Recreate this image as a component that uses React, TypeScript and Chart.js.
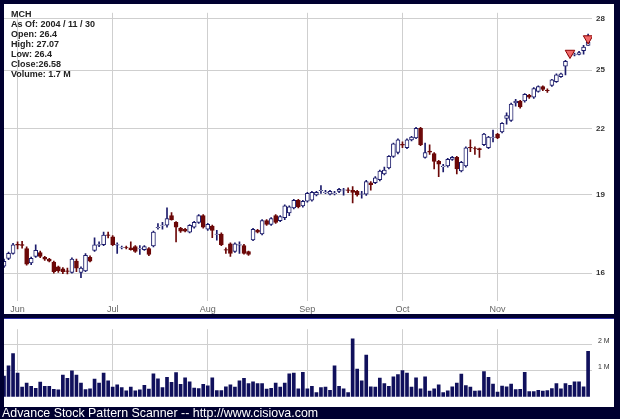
import React, { useEffect, useRef } from 'react';
import { Chart, registerables } from 'chart.js';
Chart.register(...registerables);

const FONT = '"Liberation Sans", Arial, sans-serif';

const dates = [
  '5/26','5/27','5/28',
  '6/1','6/2','6/3','6/4','6/7','6/8','6/9','6/10','6/14','6/15','6/16','6/17','6/18','6/21','6/22','6/23','6/24','6/25','6/28','6/29','6/30',
  '7/1','7/2','7/6','7/7','7/8','7/9','7/12','7/13','7/14','7/15','7/16','7/19','7/20','7/21','7/22','7/23','7/26','7/27','7/28','7/29','7/30',
  '8/2','8/3','8/4','8/5','8/6','8/9','8/10','8/11','8/12','8/13','8/16','8/17','8/18','8/19','8/20','8/23','8/24','8/25','8/26','8/27','8/30','8/31',
  '9/1','9/2','9/3','9/7','9/8','9/9','9/10','9/13','9/14','9/15','9/16','9/17','9/20','9/21','9/22','9/23','9/24','9/27','9/28','9/29','9/30',
  '10/1','10/4','10/5','10/6','10/7','10/8','10/11','10/12','10/13','10/14','10/15','10/18','10/19','10/20','10/21','10/22','10/25','10/26','10/27','10/28','10/29',
  '11/1','11/2','11/3','11/4','11/5','11/8','11/9','11/10','11/11','11/12','11/15','11/16','11/17','11/18','11/19','11/22','11/23','11/24','11/26','11/29','11/30',
];

const opens = [
  16.25,16.53,16.71,17.05,17.04,16.89,16.36,16.60,16.74,16.57,
  16.50,16.39,16.22,16.15,16.08,16.03,16.43,16.03,16.08,16.57,
  16.82,17.02,17.03,17.41,17.33,17.02,16.92,16.93,16.92,16.96,
  16.88,16.85,16.89,16.99,17.68,17.77,17.78,18.16,17.89,17.66,
  17.62,17.51,17.70,17.89,18.16,17.62,17.74,17.42,17.44,16.85,
  17.07,16.78,17.02,17.00,16.78,17.21,17.58,17.44,17.96,17.81,
  18.16,17.96,18.08,18.27,18.47,18.78,18.55,18.74,18.78,19.00,
  19.18,19.10,19.03,19.06,19.15,19.20,19.22,19.20,19.15,19.03,
  19.03,19.52,19.52,19.65,19.90,20.16,20.68,20.86,21.24,21.08,
  21.45,21.54,22.00,20.64,20.92,20.81,20.46,20.22,20.25,20.55,
  20.64,20.03,20.25,21.10,21.04,21.04,21.22,21.08,21.56,21.72,
  21.82,22.48,22.38,23.26,23.36,23.36,23.65,23.56,23.86,24.12,
  23.92,24.17,24.37,24.64,25.22,25.81,25.85,25.88,26.10,26.40,
];
const highs = [
  16.50,16.76,17.08,17.14,17.16,16.95,16.58,17.03,16.80,16.60,
  16.53,16.43,16.25,16.20,16.18,16.55,16.50,16.22,16.70,16.62,
  17.29,17.14,17.51,17.51,17.38,17.10,16.98,16.98,17.14,17.00,
  17.00,17.00,16.93,17.55,17.84,17.89,18.47,18.28,17.92,17.70,
  17.66,17.80,17.93,18.20,18.20,17.85,17.78,17.58,17.48,16.92,
  17.10,17.10,17.14,17.05,16.80,17.66,17.62,18.00,18.00,18.08,
  18.20,18.16,18.59,18.55,18.82,18.82,18.78,19.11,19.15,19.15,
  19.40,19.20,19.20,19.15,19.28,19.28,19.30,19.35,19.20,19.15,
  19.62,19.57,19.78,20.07,20.20,20.72,21.30,21.50,21.35,21.50,
  21.62,22.05,22.05,21.30,21.22,20.86,20.50,20.33,20.60,20.68,
  20.68,20.46,21.12,21.45,21.12,21.06,21.76,21.62,21.91,21.76,
  22.28,22.76,23.25,23.45,23.40,23.75,23.70,24.06,24.16,24.16,
  24.00,24.50,24.80,24.84,25.55,26.00,25.95,26.05,26.40,27.07,
];
const lows = [
  16.20,16.48,16.68,16.88,16.90,16.28,16.30,16.56,16.55,16.45,
  16.40,16.00,16.03,15.98,15.97,16.00,16.05,15.84,16.05,16.40,
  16.78,16.96,17.00,17.29,17.00,16.71,16.88,16.88,16.83,16.75,
  16.67,16.82,16.63,16.95,17.62,17.62,17.70,17.98,17.14,17.50,
  17.52,17.48,17.66,17.85,17.66,17.58,17.30,17.20,17.00,16.71,
  16.60,16.75,16.71,16.68,16.64,17.18,17.48,17.40,17.77,17.77,
  17.85,17.92,18.00,18.16,18.43,18.47,18.50,18.70,18.74,18.96,
  19.07,19.05,19.00,19.00,19.10,18.99,19.10,18.67,18.95,18.87,
  18.98,19.20,19.48,19.60,19.86,20.12,20.64,20.80,21.08,21.04,
  21.40,21.50,21.18,20.60,20.77,20.12,19.78,19.99,20.20,20.50,
  19.90,19.99,20.20,20.90,20.77,20.64,21.18,21.04,21.35,21.50,
  21.78,22.20,22.33,23.10,23.00,23.30,23.50,23.50,23.82,23.90,
  23.80,24.12,24.33,24.60,24.74,25.75,25.80,25.85,25.90,26.40,
];
const closes = [
  16.42,16.71,17.03,17.02,17.01,16.32,16.53,16.82,16.60,16.50,
  16.43,16.05,16.08,16.05,16.06,16.50,16.18,16.18,16.64,16.43,
  17.03,17.04,17.40,17.38,17.03,17.04,16.93,16.92,16.85,16.78,
  16.89,16.96,16.67,17.51,17.70,17.78,18.04,18.00,17.70,17.55,
  17.55,17.77,17.89,18.16,17.70,17.81,17.58,17.44,17.03,16.83,
  16.71,17.07,17.04,16.71,16.67,17.62,17.51,17.96,17.81,18.04,
  17.89,18.12,18.55,18.51,18.78,18.51,18.74,19.07,19.11,19.11,
  19.20,19.12,19.15,19.08,19.24,19.22,19.19,19.11,19.00,19.05,
  19.57,19.44,19.73,20.03,20.07,20.68,21.26,21.45,21.20,21.45,
  21.58,22.00,21.22,20.86,20.88,20.46,20.33,20.25,20.55,20.64,
  20.12,20.42,21.08,21.07,21.02,20.99,21.72,21.58,21.58,21.54,
  22.24,22.62,23.20,23.36,23.06,23.70,23.56,24.01,24.12,23.96,
  23.90,24.47,24.74,24.80,25.49,25.88,25.87,25.98,26.30,26.58,
];
// millions of shares
const volumes = [
  0.79,1.18,1.64,0.90,0.37,0.52,0.40,0.32,0.56,0.40,
  0.40,0.28,0.26,0.82,0.70,0.99,0.82,0.52,0.27,0.30,
  0.67,0.52,0.90,0.61,0.37,0.45,0.35,0.23,0.37,0.23,
  0.26,0.44,0.29,0.87,0.68,0.35,0.74,0.55,0.92,0.47,
  0.72,0.57,0.33,0.31,0.47,0.42,0.72,0.24,0.24,0.38,
  0.45,0.37,0.61,0.70,0.50,0.57,0.50,0.50,0.29,0.32,
  0.52,0.37,0.52,0.87,0.90,0.30,0.93,0.30,0.40,0.16,
  0.35,0.37,0.25,1.18,0.40,0.30,0.16,2.20,1.05,0.61,
  1.58,0.38,0.37,0.71,0.50,0.40,0.76,0.84,1.00,0.90,
  0.37,0.72,0.30,0.76,0.22,0.30,0.45,0.16,0.23,0.38,
  0.52,0.86,0.43,0.37,0.22,0.23,0.96,0.74,0.48,0.18,
  0.41,0.38,0.48,0.27,0.28,0.93,0.20,0.20,0.25,0.22,
  0.24,0.31,0.50,0.30,0.50,0.44,0.57,0.57,0.38,1.73,
];

const monthLabels = ['Jun', 'Jul', 'Aug', 'Sep', 'Oct', 'Nov'];
const monthFirstDays = ['6/1', '7/1', '8/2', '9/1', '10/1', '11/1'];
const priceTicks = [16, 19, 22, 25, 28];
const volumeTicks = [1, 2];
const signalDays = ['11/23', '11/30'];
const signalLevels = [25.96, 26.8];
const infoLines = ['MCH', 'As Of: 2004 / 11 / 30', 'Open: 26.4', 'High: 27.07', 'Low: 26.4', 'Close:26.58', 'Volume: 1.7 M'];
const footerText = 'Advance Stock Pattern Scanner -- http://www.cisiova.com';

const UP = '#1c1c6c';
const DOWN = '#6c0808';
const GRID = '#cfcfcf';

export default function App() {
  const pRef = useRef<HTMLCanvasElement>(null);
  const vRef = useRef<HTMLCanvasElement>(null);

  useEffect(() => {
    document.body.style.margin = '0';
    Chart.defaults.font.family = FONT;
    const idx = dates.map((_, i) => i);
    const monthIdx = monthFirstDays.map((d) => dates.indexOf(d));
    const isUp = (i: number) => closes[i] >= opens[i];
    const xMin = 0;
    const xMax = 129.86;

    const xScaleBase = (showLabels: boolean) => ({
      type: 'linear' as const,
      min: xMin,
      max: xMax,
      offset: false,
      grid: { color: GRID, drawTicks: false, lineWidth: 1, offset: false },
      border: { display: false },
      ticks: {
        display: showLabels,
        padding: 3,
        color: '#666',
        font: { size: 9, family: FONT },
        maxRotation: 0,
        autoSkip: false,
        callback: (v: any) => {
          const k = monthIdx.indexOf(v);
          return k >= 0 ? monthLabels[k] : '';
        },
      },
      afterBuildTicks: (s: any) => {
        s.ticks = monthIdx.map((v) => ({ value: v }));
      },
      afterFit: (s: any) => {
        s.height = showLabels ? 13 : 0;
      },
    });

    const pc = new Chart(pRef.current!, {
      type: 'bar',
      data: {
        datasets: [
          {
            type: 'line',
            data: signalDays.map((d, k) => ({ x: dates.indexOf(d), y: signalLevels[k] })),
            showLine: false,
            pointStyle: 'triangle',
            pointRotation: 180,
            pointRadius: 5.5,
            pointBackgroundColor: '#f06a6a',
            pointBorderColor: '#8a0000',
            pointBorderWidth: 1,
            order: 0,
          } as any,
          {
            data: idx.map((i) => ({ x: i, y: [opens[i], closes[i]] })),
            backgroundColor: idx.map((i) => (isUp(i) ? '#ffffff' : DOWN)),
            borderColor: idx.map((i) => (isUp(i) ? UP : DOWN)),
            borderWidth: 1,
            borderSkipped: false,
            barThickness: 4,
            grouped: false,
            order: 1,
          } as any,
          {
            data: idx.map((i) => ({ x: i, y: [lows[i], highs[i]] })),
            backgroundColor: idx.map((i) => (isUp(i) ? UP : DOWN)),
            borderWidth: 0,
            barThickness: 1,
            grouped: false,
            order: 2,
          } as any,
        ],
      },
      options: {
        animation: false,
        responsive: false,
        maintainAspectRatio: false,
        devicePixelRatio: 1,
        layout: { padding: 0, autoPadding: false },
        plugins: { legend: { display: false }, tooltip: { enabled: false } },
        scales: {
          x: xScaleBase(true) as any,
          y: {
            type: 'logarithmic',
            position: 'right',
            min: 15.05,
            max: 28.36,
            grid: { color: GRID, drawTicks: false, lineWidth: 1 },
            border: { display: false },
            ticks: {
              padding: 4,
              color: '#333',
              font: { size: 8, weight: 'bold', family: FONT },
              callback: (v: any) => String(v),
            },
            afterBuildTicks: (s: any) => {
              s.ticks = priceTicks.map((v) => ({ value: v }));
            },
            afterFit: (s: any) => {
              s.width = 22;
            },
          } as any,
        },
      },
    });

    const vc = new Chart(vRef.current!, {
      type: 'bar',
      data: {
        datasets: [
          {
            data: idx.map((i) => ({ x: i, y: volumes[i] })),
            backgroundColor: '#10105c',
            borderWidth: 0,
            barThickness: 3,
          } as any,
        ],
      },
      options: {
        animation: false,
        responsive: false,
        maintainAspectRatio: false,
        devicePixelRatio: 1,
        layout: { padding: 0, autoPadding: false },
        plugins: { legend: { display: false }, tooltip: { enabled: false } },
        scales: {
          x: xScaleBase(false) as any,
          y: {
            type: 'linear',
            position: 'right',
            min: 0,
            max: 2.566,
            grid: { color: GRID, drawTicks: false, lineWidth: 1 },
            border: { display: false },
            ticks: {
              padding: 6,
              labelOffset: -3,
              color: '#333',
              font: { size: 7, family: FONT },
              callback: (v: any) => `${v} M`,
            },
            afterBuildTicks: (s: any) => {
              s.ticks = volumeTicks.map((v) => ({ value: v }));
            },
            afterFit: (s: any) => {
              s.width = 22;
            },
          } as any,
        },
      },
    });

    return () => {
      pc.destroy();
      vc.destroy();
    };
  }, []);

  return (
    <div
      style={{
        position: 'relative',
        width: 620,
        height: 419,
        background: '#000030',
        overflow: 'hidden',
        fontFamily: FONT,
      }}
    >
      <div style={{ position: 'absolute', left: 4, top: 4, width: 610, height: 310, background: '#fff' }}>
        <canvas ref={pRef} width={610} height={310} style={{ display: 'block', width: 610, height: 310 }} />
      </div>
      <div style={{ position: 'absolute', left: 4, top: 318, width: 610, height: 1, background: '#2e2ea6' }} />
      <div style={{ position: 'absolute', left: 4, top: 319, width: 610, height: 88, background: '#fff' }}>
        <canvas ref={vRef} width={610} height={88} style={{ display: 'block', width: 610, height: 88 }} />
      </div>
      <div
        style={{
          position: 'absolute',
          left: 11,
          top: 9,
          fontSize: 9,
          lineHeight: '10px',
          fontWeight: 'bold',
          color: '#222',
          whiteSpace: 'pre',
        }}
      >
        {infoLines.map((t, k) => (
          <div key={k}>{t}</div>
        ))}
      </div>
      <div
        style={{
          position: 'absolute',
          left: 2,
          top: 406,
          fontSize: 12.4,
          lineHeight: '14px',
          color: '#ffffff',
          whiteSpace: 'pre',
        }}
      >
        {footerText}
      </div>
    </div>
  );
}
